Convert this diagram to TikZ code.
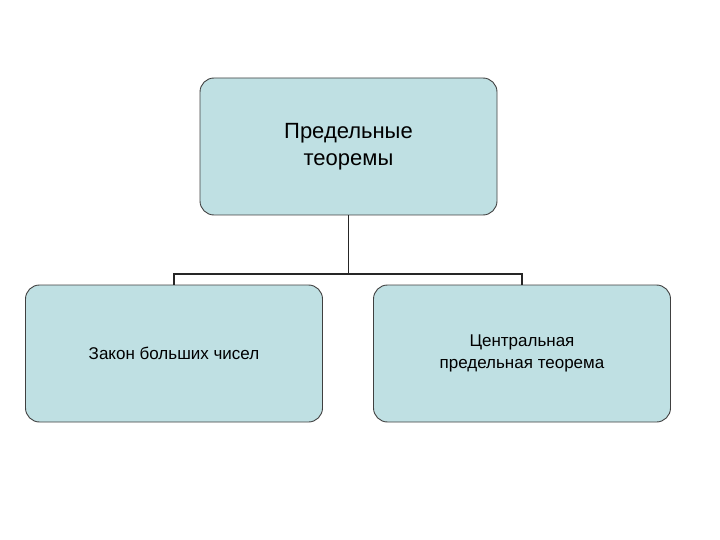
\documentclass[tikz,border=0pt]{standalone}
\usepackage{fontspec}
\setmainfont{Liberation Sans}
\begin{document}
\begin{tikzpicture}[x=1pt,y=-1pt,
  boxst/.style={draw=black!75,line width=0.9pt,fill=cyan!20!gray!25!white,fill={rgb,255:red,191;green,224;blue,227},rounded corners=14pt,minimum width=297pt,minimum height=137pt,align=center,inner sep=0pt},
  conn/.style={line width=1.6pt,draw=black!85}]
\useasboundingbox (0,0) rectangle (720,540);
\node[boxst,font=\fontsize{22}{27}\selectfont] (top) at (348.5,146.5) {Предельные\\теоремы};
\node[boxst,font=\fontsize{17}{22}\selectfont] (left) at (174,353.5) {Закон больших чисел};
\node[boxst,font=\fontsize{17}{22}\selectfont] (right) at (522,353.5) {Центральная\\предельная теорема};
\coordinate (mid) at (348.5,274);
\draw[conn] (top.south) -- (mid);
\draw[conn] (left.north) -- (left.north |- mid) -- (right.north |- mid) -- (right.north);
\end{tikzpicture}
\end{document}
